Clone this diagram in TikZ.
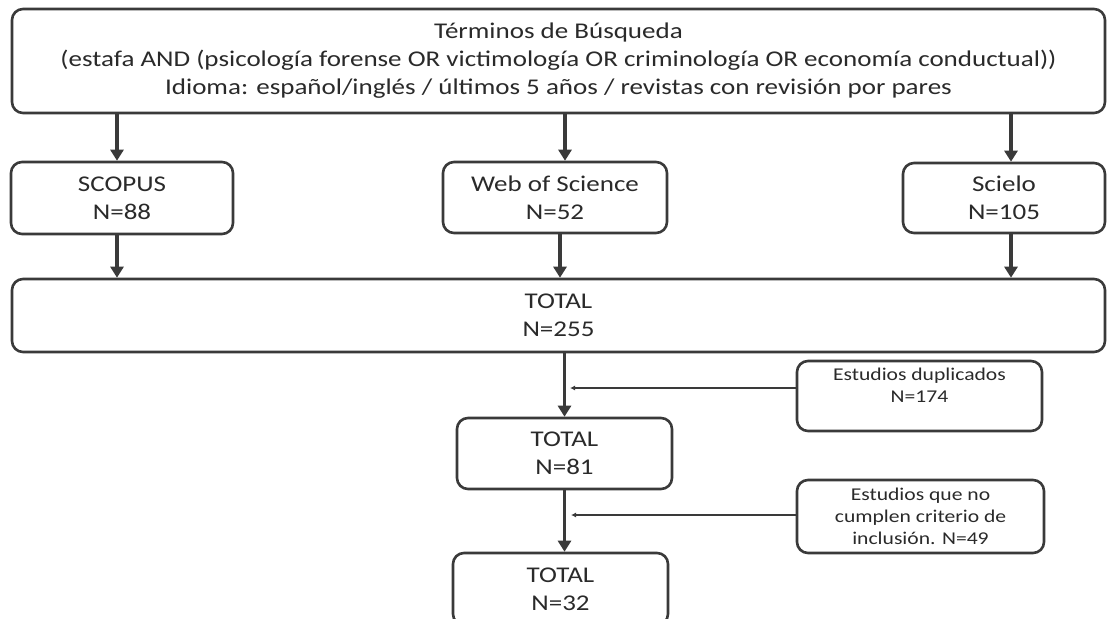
\documentclass[tikz,border=0pt]{standalone}
\usepackage{fontspec}
\setmainfont{Carlito}[FakeStretch=1.2]
\usetikzlibrary{arrows.meta}
\definecolor{linec}{HTML}{3A3A3A}
\definecolor{textc}{HTML}{2A2A2A}
\begin{document}
\begin{tikzpicture}[x=1pt,y=-1pt,
  box/.style={draw=linec, line width=2.6pt, rounded corners=11pt, fill=white,
    align=center, inner sep=0pt, text=textc,
    font=\fontsize{22.5}{28}\selectfont},
  smallbox/.style={box, font=\fontsize{18}{22}\selectfont},
  arr/.style={draw=linec, line width=3.5pt, -{Triangle[length=11pt,width=13pt]}},
  side/.style={draw=linec, line width=2.4pt, -{Latex[length=5pt,width=5pt]}}]
\clip (0,0) rectangle (1107,618);
\fill[white] (0,0) rectangle (1107,618);

\node[box, minimum width=1093pt, minimum height=104pt] (top) at (558.5,61)
  {Términos de Búsqueda\\
   (estafa AND (psicología forense OR victimología OR criminología OR economía conductual))\\
   Idioma: español/inglés / últimos 5 años / revistas con revisión por pares};

\node[box, minimum width=222pt, minimum height=72pt] (scopus) at (122,198) {SCOPUS\\N=88};
\node[box, minimum width=224pt, minimum height=71pt] (wos) at (555,197.5) {Web of Science\\N=52};
\node[box, minimum width=202pt, minimum height=70pt] (scielo) at (1004,198) {Scielo\\N=105};

\node[box, minimum width=1093pt, minimum height=73pt] (total) at (558.5,315.5) {TOTAL\\N=255};

\node[smallbox, minimum width=245pt, minimum height=70pt] (dup) at (919.5,396)
  {Estudios duplicados\\N=174\\\mbox{}};
\node[box, minimum width=215pt, minimum height=71pt] (n81) at (564.5,453.5) {TOTAL\\N=81};
\node[smallbox, minimum width=247pt, minimum height=73pt] (excl) at (920.5,516.5)
  {Estudios que no\\cumplen criterio de\\inclusión. N=49};
\node[box, minimum width=215pt, minimum height=72pt] (n32) at (560.5,589) {TOTAL\\N=32};

% arrow columns
\coordinate (c1) at (117,0);
\coordinate (c2) at (565,0);
\coordinate (c2b) at (560,0);
\coordinate (c3) at (1011,0);
\coordinate (j1) at (570,388);
\coordinate (j2) at (571,515);

\draw[arr] (top.south -| c1) -- (scopus.north -| c1);
\draw[arr] (top.south -| c2) -- (wos.north -| c2);
\draw[arr] (top.south -| c3) -- (scielo.north -| c3);

\draw[arr] (scopus.south -| c1) -- (total.north -| c1);
\draw[arr] (wos.south -| c2b) -- (total.north -| c2b);
\draw[arr] (scielo.south -| c3) -- (total.north -| c3);

\draw[arr] (total.south -| n81.north) -- (n81.north);
\draw[arr] (n81.south) -- (n81.south |- n32.north);

\draw[side] ([yshift=8pt]dup.west) -- (j1);
\draw[side] (excl.west |- j2) -- (j2);
\end{tikzpicture}
\end{document}
